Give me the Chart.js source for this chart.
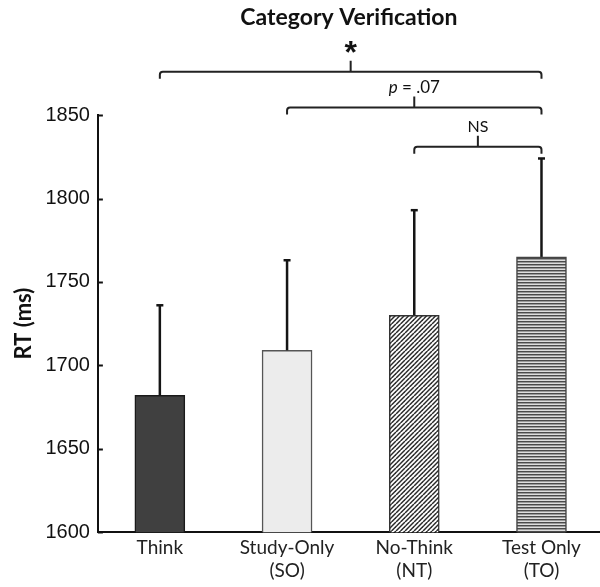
<!DOCTYPE html>
<html><head><meta charset="utf-8">
<script src="https://cdn.jsdelivr.net/npm/chart.js@4.4.1/dist/chart.umd.min.js"></script>
<style>html,body{margin:0;padding:0;background:#fff;overflow:hidden}#wrap{width:600px;height:587px;position:relative}</style>
</head><body><div id="wrap"><canvas id="c" width="600" height="587"></canvas></div>
<script>
// ---- data ----
const categories = [['Think'], ['Study-Only', '(SO)'], ['No-Think', '(NT)'], ['Test Only', '(TO)']];
const meanRT = [1682, 1709, 1730, 1765];
const errorRT = [54, 54, 63, 59];
const yTicks = [1600, 1650, 1700, 1750, 1800, 1850];
const compFrom = [0, 1, 2];
const compTo = [3, 3, 3];
const compLabels = ['*', 'p = .07', 'NS'];

// ---- styles ----
function diagPattern() {
  const c = document.createElement('canvas'); c.width = 9; c.height = 9;
  const g = c.getContext('2d');
  g.fillStyle = '#ffffff'; g.fillRect(0, 0, 9, 9);
  g.strokeStyle = '#2a2a2a'; g.lineWidth = 1.5;
  for (let k = -3; k <= 4; k++) {
    const o = k * 4.5;
    g.beginPath(); g.moveTo(o, 9); g.lineTo(o + 9, 0); g.stroke();
  }
  return g.createPattern(c, 'repeat');
}
function stripePattern() {
  const c = document.createElement('canvas'); c.width = 4; c.height = 3;
  const g = c.getContext('2d');
  g.fillStyle = '#4a4a4a'; g.fillRect(0, 0, 4, 1);
  g.fillStyle = '#9a9a9a'; g.fillRect(0, 1, 4, 1);
  g.fillStyle = '#dedede'; g.fillRect(0, 2, 4, 1);
  return g.createPattern(c, 'repeat');
}
const fills = ['#404040', '#ececec', diagPattern(), stripePattern()];
const borders = ['#1a1a1a', '#555555', '#333333', '#444444'];
const bracketLevels = [1876, 1854.5, 1831];

const overlay = {
  id: 'overlay',
  afterDatasetsDraw(chart) {
    const ctx = chart.ctx, x = chart.scales.x, y = chart.scales.y, area = chart.chartArea;
    const meta = chart.getDatasetMeta(0);
    ctx.save();
    // inward y ticks
    ctx.strokeStyle = '#111'; ctx.lineWidth = 2;
    y.ticks.forEach(t => {
      const py = Math.round(y.getPixelForValue(t.value)) + 0.5;
      ctx.beginPath(); ctx.moveTo(area.left, py); ctx.lineTo(area.left + 5, py); ctx.stroke();
    });
    // error bars
    meta.data.forEach((bar, i) => {
      const top = y.getPixelForValue(meanRT[i] + errorRT[i]);
      ctx.strokeStyle = '#151515'; ctx.lineWidth = 2.5;
      ctx.beginPath(); ctx.moveTo(bar.x, bar.y); ctx.lineTo(bar.x, top); ctx.stroke();
      ctx.lineWidth = 2.5;
      ctx.beginPath(); ctx.moveTo(bar.x - 3.5, top); ctx.lineTo(bar.x + 3.5, top); ctx.stroke();
    });
    // brackets
    ctx.strokeStyle = '#222'; ctx.lineWidth = 2; ctx.fillStyle = '#111';
    compFrom.forEach((f, i) => {
      const x1 = x.getPixelForValue(f), x2 = x.getPixelForValue(compTo[i]);
      const py = y.getPixelForValue(bracketLevels[i]);
      const drop = 7, r = 3, mid = (x1 + x2) / 2;
      ctx.beginPath();
      ctx.moveTo(x1, py + drop);
      ctx.lineTo(x1, py + r);
      ctx.quadraticCurveTo(x1, py, x1 + r, py);
      ctx.lineTo(x2 - r, py);
      ctx.quadraticCurveTo(x2, py, x2, py + r);
      ctx.lineTo(x2, py + drop);
      ctx.moveTo(mid, py); ctx.lineTo(mid, py - 11);
      ctx.stroke();
      const lab = compLabels[i];
      if (lab === '*') {
        ctx.font = 'bold 32px "Liberation Sans"';
        ctx.textAlign = 'center'; ctx.textBaseline = 'middle';
        ctx.fillText(lab, mid, py - 18);
      } else if (lab.startsWith('p')) {
        ctx.textBaseline = 'alphabetic'; ctx.textAlign = 'left';
        ctx.font = 'italic 17px Lato';
        const w1 = ctx.measureText('p').width;
        ctx.font = '17px Lato';
        const rest = lab.slice(1);
        const w2 = ctx.measureText(rest).width;
        const sx = mid - (w1 + w2) / 2;
        ctx.font = 'italic 17px Lato'; ctx.fillText('p', sx, py - 15);
        ctx.font = '17px Lato'; ctx.fillText(rest, sx + w1, py - 15);
      } else {
        ctx.font = '16px Lato';
        ctx.textAlign = 'center'; ctx.textBaseline = 'alphabetic';
        ctx.fillText(lab, mid, py - 15);
      }
    });
    ctx.restore();
  }
};

new Chart(document.getElementById('c'), {
  type: 'bar',
  data: {
    datasets: [{
      data: meanRT.map((v, i) => ({ x: i, y: v })),
      backgroundColor: fills,
      borderColor: borders,
      borderWidth: 1.5,
      borderSkipped: 'bottom',
      barThickness: 50
    }]
  },
  options: {
    responsive: false,
    animation: false,
    events: [],
    layout: { padding: { left: 11, right: 0, top: 0, bottom: 0 } },
    plugins: {
      legend: { display: false },
      tooltip: { enabled: false },
      title: {
        display: true, text: 'Category Verification', fullSize: false,
        color: '#111', font: { family: 'Lato', size: 23, weight: 'bold' },
        padding: { top: 4, bottom: 83.5 }
      }
    },
    scales: {
      x: {
        type: 'linear', min: -0.487, max: 3.46, offset: false,
        grid: { display: false, drawTicks: false },
        border: { display: true, color: '#111', width: 2 },
        ticks: {
          stepSize: 1, includeBounds: false, autoSkip: false, maxRotation: 0,
          padding: 5, color: '#222',
          font: { family: 'Lato', size: 19, lineHeight: 1.18 },
          callback: (v) => (Number.isInteger(v) && v >= 0 && v < categories.length) ? categories[v] : ''
        }
      },
      y: {
        min: 1600, max: 1850,
        afterBuildTicks: (s) => { s.ticks = yTicks.map(v => ({ value: v })); },
        grid: { display: false, drawTicks: false },
        border: { display: true, color: '#111', width: 2 },
        ticks: { padding: 8, color: '#111', font: { family: 'Liberation Sans', size: 20 }, callback: (v) => String(v) },
        title: {
          display: true, text: 'RT (ms)', color: '#111',
          font: { family: 'Lato', size: 22, weight: 'bold' },
          padding: { top: 0, bottom: 0 }
        }
      }
    }
  },
  plugins: [overlay]
});
</script></body></html>
